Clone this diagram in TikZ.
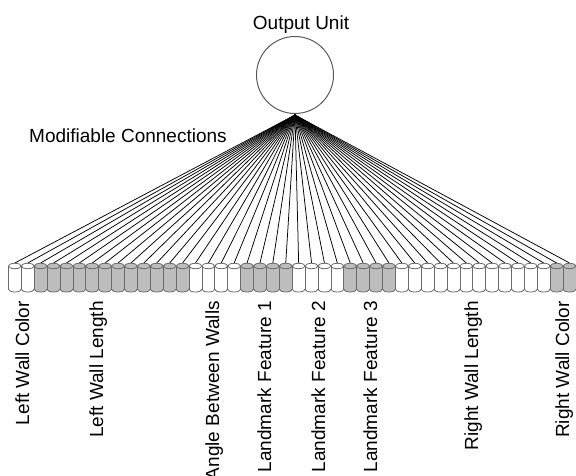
\documentclass[tikz,border=0pt]{standalone}
\usepackage{fontspec}
\setmainfont{Liberation Sans}
\definecolor{cylfill}{gray}{0.74}
\definecolor{cylline}{gray}{0.42}
\definecolor{circline}{gray}{0.35}
\begin{document}
\begin{tikzpicture}[x=1pt,y=1pt,yscale=-1,
  lbl/.style={font=\fontsize{19}{22}\selectfont, inner sep=0pt},
  vlbl/.style={lbl, rotate=90, anchor=base east},
  cellbox/.style={minimum width=12.9pt, minimum height=29pt, inner sep=0pt, outer sep=0pt},
  conn/.style={line width=0.75pt, black},
  cyl/.style={draw=cylline, line width=0.8pt}]
\useasboundingbox (0,0) rectangle (576,476);

% output unit
\node[circle, draw=circline, line width=1pt, minimum size=77pt, inner sep=0pt] (out) at (295,75) {};
\node[lbl, anchor=base] (outlbl) at (301,30) {Output Unit};
\coordinate (apex) at (295,115);
\node[lbl, anchor=base west] (mod) at (29,143) {Modifiable Connections};

% input cells (placeholders)
\foreach \i in {1,...,44} {
  \pgfmathsetmacro\cx{8.4+12.9*(\i-0.5)}
  \node[cellbox] (c\i) at (\cx,277.5) {};
}
% connections
\foreach \i in {1,...,44} {
  \draw[conn] (apex) -- (c\i.north);
}
% cylinders
\foreach \i in {1,...,44} {
  \pgfmathsetmacro\cx{8.4+12.9*(\i-0.5)}
  \pgfmathsetmacro\g{(\i>2)*(\i<15)+(\i>18)*(\i<23)+(\i>26)*(\i<31)+(\i>42)}
  \ifdim\g pt>0.5pt \def\f{cylfill}\else\def\f{white}\fi
  \path[cyl, fill=\f] (\cx,289.3) ellipse [x radius=6.45pt, y radius=2.7pt];
  \fill[\f] (\cx-6.45,266) rectangle (\cx+6.45,289.3);
  \draw[cyl] (\cx-6.45,266) -- (\cx-6.45,289.3) (\cx+6.45,266) -- (\cx+6.45,289.3);
  \path[cyl, fill=\f] (\cx,266) ellipse [x radius=6.45pt, y radius=2.7pt];
}

% labels
\node[vlbl] (lwc) at (29,301) {Left Wall Color};
\node[vlbl] (lwl) at (103,301) {Left Wall Length};
\node[vlbl] (abw) at (219,301) {Angle Between Walls};
\node[vlbl] (lf1) at (271,301) {Landmark Feature 1};
\node[vlbl] (lf2) at (325,301) {Landmark Feature 2};
\node[vlbl] (lf3) at (377,301) {Landmark Feature 3};
\node[vlbl] (rwl) at (478,301) {Right Wall Length};
\node[vlbl] (rwc) at (569,301) {Right Wall Color};
\end{tikzpicture}
\end{document}
